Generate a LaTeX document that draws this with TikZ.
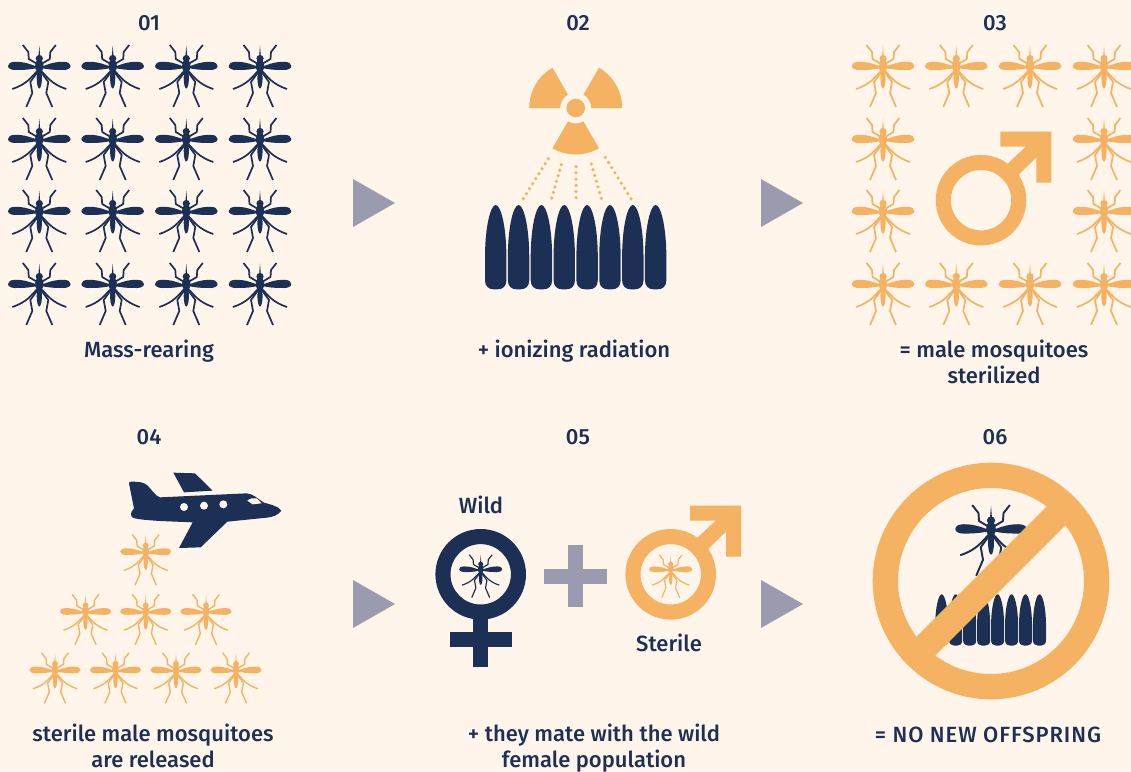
\documentclass[tikz,border=0pt]{standalone}
\usepackage{fontspec}
\setmainfont{Fira Sans Medium}
\definecolor{bgc}{HTML}{FFF5EA}
\definecolor{navy}{HTML}{1B3054}
\definecolor{orng}{HTML}{F6B263}
\definecolor{gry}{HTML}{9A9BAE}
\tikzset{
  lab/.style={text=navy,font=\fontsize{22}{26}\selectfont,align=center,inner sep=0pt},
  arrowhd/.style={fill=gry},
}
\newcommand\mosq[4]{%
\begin{scope}[shift={(#1,#2)},scale=#3]
 \fill[#4] (0,-20.5) -- (.9,-9) -- (-.9,-9) -- cycle;
 \fill[#4] (0,-7.5) circle (3.6);
 \fill[#4] (0,0) ellipse (4.2 and 6.5);
 \fill[#4] (0,12) ellipse (2.6 and 10.5);
 \foreach \s in {-1,1}{
  \fill[#4,xscale=\s] (0,1.5) .. controls (8,-1.5) and (14,-4.2) .. (24,-4.2) .. controls (29,-4.2) and (31.3,-2.2) .. (31.3,0) .. controls (31.3,2.5) and (28,4) .. (24,4) .. controls (14,4) and (8,3.5) .. (0,1.5) -- cycle;
  \draw[#4,xscale=\s,line width=#3*1.7pt,line join=round]
    (2,-2) -- (10.5,-7) -- (11,-14) -- (16.5,-21);
  \draw[#4,xscale=\s,line width=#3*1.7pt,line join=round]
    (2,5) .. controls (8,11) and (12,18) .. (27,23);
  \draw[#4,xscale=\s,line width=#3*1.7pt,line join=round]
    (1,5) -- (9,16) -- (7,27) -- (13,41);
 }
\end{scope}}
\newcommand\seedpod[3]{%
\begin{scope}[shift={(#1,#2)},scale=#3]
 \fill[navy] (-10.7,-9) -- (-10.7,-34) .. controls (-10.4,-64) and (-5,-84.3) .. (0,-84.3) .. controls (5,-84.3) and (10.4,-64) .. (10.7,-34) -- (10.7,-9) .. controls (10.7,-3) and (7,0) .. (2,0) -- (-2,0) .. controls (-7,0) and (-10.7,-3) .. (-10.7,-9) -- cycle;
\end{scope}}
\newcommand\malesign[3]{%
\begin{scope}[shift={(#1,#2)}]
 \fill[#3,even odd rule] (0,0) circle (45.3) (0,0) circle (30.2);
 \fill[#3] (70.3,-68.7) -- (19.3,-68.7) -- (19.3,-53.7) -- (45,-53.7) -- (24,-34) -- (35,-23) -- (55.3,-42.7) -- (55.3,-17.7) -- (70.3,-17.7) -- cycle;
\end{scope}}
\newcommand\tri[2]{\fill[arrowhd] (#1,#2-24) -- (#1+42,#2) -- (#1,#2+24) -- cycle;}
\begin{document}
\begin{tikzpicture}[x=1pt,y=-1pt]
\fill[bgc] (0,0) rectangle (1131,771);
\useasboundingbox (0,0) rectangle (1131,771);
% panel 01
\foreach \x in {39.3,112.7,186.3,260}{\foreach \y in {66,139,211,284}{\mosq{\x}{\y}{1}{navy}}}
% panel 03
\foreach \x in {883,956.3,1030,1104}{\foreach \y in {66,284}{\mosq{\x}{\y}{1}{orng}}}
\foreach \x in {883,1104}{\foreach \y in {139,211}{\mosq{\x}{\y}{1}{orng}}}
\malesign{981}{200.2}{orng}
% panel 02
\begin{scope}[shift={(575.7,108)},yscale=-1]
\foreach \a in {30,150,270}{
 \fill[orng] (\a-30:15.5) -- (\a-30:46.5) arc[start angle=\a-30,end angle=\a+30,radius=46.5] -- (\a+30:15.5) arc[start angle=\a+30,end angle=\a-30,radius=15.5] -- cycle;
}
\fill[orng] (0,0) circle (9.3);
\end{scope}
\foreach \ax/\ay/\bx/\by/\n in {548.3/158.7/523.3/198.7/8,561.3/164.7/551.7/198/6,576/166.7/576/197.7/5,591.3/164/601.3/198.3/6,605.3/157.3/631/198.7/8}{
 \foreach \i in {0,...,\n}{
  \fill[orng] ({\ax+(\bx-\ax)*\i/\n},{\ay+(\by-\ay)*\i/\n}) circle (1.8);
 }
}
\foreach \i in {0,...,7}{\seedpod{495.7+22.85*\i}{289.3}{1}}
% arrows
\tri{353}{203}\tri{761}{203}\tri{353}{604}\tri{761}{604}
% panel 04
\begin{scope}[shift={(110,460)},scale=1/3]
 \fill[navy] (190,38) -- (255,40) -- (308,92) -- (222,97) -- cycle;
 \fill[navy] (57,70) .. controls (57,66) and (60,65) .. (65,65) .. controls (85,65) and (100,66) .. (112,76) .. controls (125,88) and (135,108) .. (150,112)
  -- (410,100) .. controls (430,101) and (445,118) .. (462,128) .. controls (480,133) and (505,138) .. (514,152)
  .. controls (505,165) and (490,172) .. (460,174) -- (352,185) -- (272,262) -- (207,264) -- (248,187) -- (150,183) .. controls (110,180) and (70,178) .. (65,170)
  .. controls (60,160) and (66,150) .. (72,145) -- cycle;
 \fill[bgc] (222,141) circle (12) (282,137) circle (12) (340,133) circle (12);
 \fill[bgc] (412,122) .. controls (420,115) and (430,112) .. (440,115) -- (455,130) -- (428,133) -- cycle;
\end{scope}
\mosq{145.7}{551.7}{.815}{orng}
\foreach \x in {85.5,145.7,206}{\mosq{\x}{611.5}{.815}{orng}}
\foreach \x in {55,115.5,176,236}{\mosq{\x}{670}{.815}{orng}}
% panel 05
\fill[navy,even odd rule] (480.7,574.3) circle (45.3) (480.7,574.3) circle (30.2);
\fill[navy] (473.3,615) rectangle (488.3,666.7);
\fill[navy] (450,632.3) rectangle (511.7,647);
\mosq{480.7}{569.3}{.69}{navy}
\fill[gry] (568.3,545.3) rectangle (583,607.3);
\fill[gry] (544.3,569) rectangle (606.7,584);
\malesign{670.7}{574.3}{orng}
\mosq{670.7}{569.3}{.69}{orng}
% panel 06
\mosq{991}{529}{1.14}{navy}
\foreach \i in {0,...,7}{\seedpod{941.7+13.97*\i}{645.7}{.61}}
\fill[orng,even odd rule] (991,581) circle (118.3) (991,581) circle (93);
\draw[orng,line width=26.6pt] (991+74,581-74) -- (991-74,581+74);
% labels
\node[lab] (n1) at (149,23) {01};
\node[lab] (n2) at (578,23) {02};
\node[lab] (n3) at (995,23) {03};
\node[lab] (n4) at (149,437) {04};
\node[lab] (n5) at (578,437) {05};
\node[lab] (n6) at (995,437) {06};
\node[lab] (t1) at (149,351) {Mass-rearing};
\node[lab] (t2) at (574,351) {+ ionizing radiation};
\node[lab,anchor=north] (t3) at (994,340) {= male mosquitoes\\sterilized};
\node[lab,anchor=north] (t4) at (153,723.5) {sterile male mosquitoes\\are released};
\node[lab,anchor=north] (t5) at (594,723.5) {+ they mate with the wild\\female population};
\node[lab] (t6) at (988,735) {\addfontfeature{LetterSpace=4.3}= NO NEW OFFSPRING};
\node[lab] (w) at (481,505) {Wild};
\node[lab] (s) at (669,643) {Sterile};
\end{tikzpicture}
\end{document}
